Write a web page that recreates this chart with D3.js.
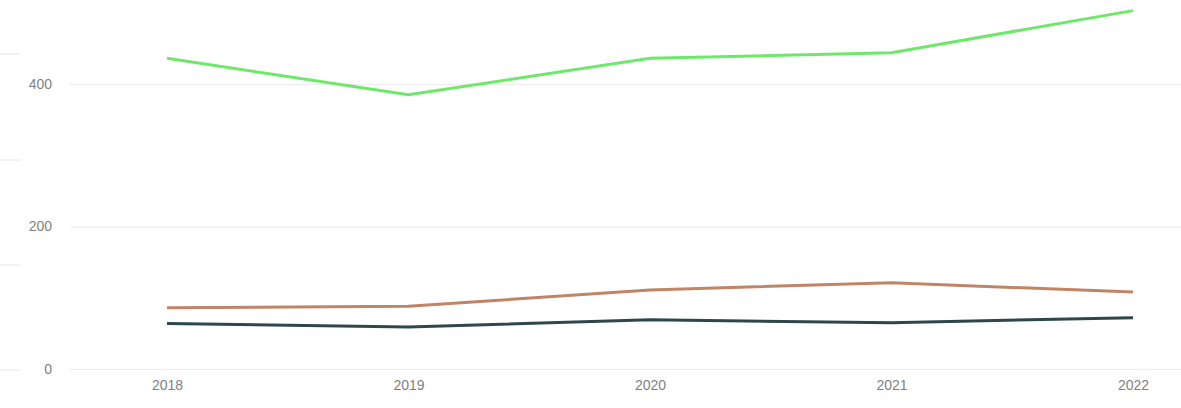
<!DOCTYPE html>
<html>
<head>
<meta charset="utf-8">
<script src="https://cdn.jsdelivr.net/npm/d3@7"></script>
<style>
  html, body { margin: 0; padding: 0; background: #fff; }
  svg { display: block; font-family: "Open Sans", "Noto Sans", sans-serif; }
  .tick text { fill: #7f7f7f; font-size: 14px; }
</style>
</head>
<body>
<div id="chart"></div>
<script>
const years = ["2018", "2019", "2020", "2021", "2022"];
const greenValues = [436, 385, 436, 444, 503];
const brownValues = [86, 88, 111, 121, 108];
const slateValues = [64, 59, 69, 65, 72];
const yTicks = [0, 200, 400];

const width = 1181, height = 408;
const margin = { top: 0, right: 47, bottom: 39, left: 70 };

const svg = d3.select('#chart')
    .append('svg')
    .attr('width', width)
    .attr('height', height);

// Faint stubs at the left edge (cut-off neighbour visual)
const stubs = [54, 160, 265, 370];
svg.selectAll('line.stub')
    .data(stubs)
    .enter()
    .append('line')
    .attr('class', 'stub')
    .attr('x1', 0).attr('x2', 20)
    .attr('y1', d => d).attr('y2', d => d)
    .attr('stroke', '#e6e6e6')
    .attr('stroke-width', 1);

const xScale = d3.scalePoint()
    .domain(years)
    .range([167, 1133]);

const yScale = d3.scaleLinear()
    .domain([0, 400])
    .range([369, 84]);

// Y gridlines + labels
const yAxis = d3.axisLeft(yScale)
    .tickValues(yTicks)
    .tickSize(-(width - margin.left))
    .tickPadding(18);

svg.append('g')
    .attr('transform', `translate(${margin.left},0)`)
    .call(yAxis)
    .call(g => g.select('.domain').remove())
    .call(g => g.selectAll('.tick line').attr('stroke', '#ececec'));

// X labels
const xAxis = d3.axisBottom(xScale).tickSize(0).tickPadding(11);
svg.append('g')
    .attr('transform', `translate(0,${369})`)
    .call(xAxis)
    .call(g => g.select('.domain').remove());

const line = d3.line()
    .x((d, i) => xScale(years[i]))
    .y(d => yScale(d));

const series = [
    { values: slateValues, color: '#2e474c' },
    { values: brownValues, color: '#c08467' },
    { values: greenValues, color: '#6ee86a' }
];

svg.selectAll('path.series')
    .data(series)
    .enter()
    .append('path')
    .attr('class', 'series')
    .attr('d', d => line(d.values))
    .attr('fill', 'none')
    .attr('stroke', d => d.color)
    .attr('stroke-width', 3)
    .attr('stroke-linejoin', 'round');
</script>
</body>
</html>
